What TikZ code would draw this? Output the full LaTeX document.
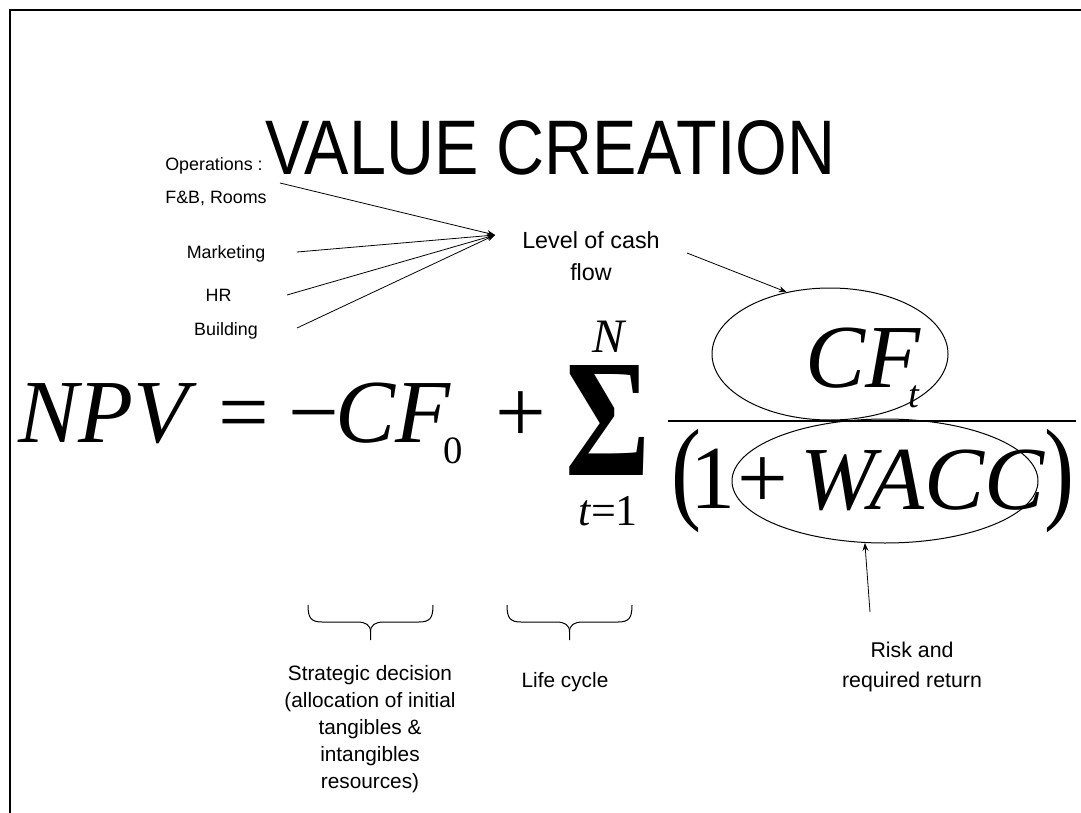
\documentclass[tikz,border=0pt]{standalone}
\usepackage{graphicx}
\usepackage{fontspec}
\setmainfont{Liberation Sans}
\newfontfamily\tms{Liberation Serif}
\usetikzlibrary{arrows.meta,shapes.geometric}
\begin{document}
\begin{tikzpicture}[x=0.75pt,y=-0.75pt,
  lbl/.style={inner sep=0pt, anchor=base, font=\fontsize{13.4}{16}\selectfont},
  note/.style={inner sep=0pt, anchor=north, align=center},
  eq/.style={inner sep=0pt, anchor=base west, font=\tms\fontsize{67.5}{70}\selectfont},
  eqi/.style={inner sep=0pt, anchor=base west, font=\tms\itshape\fontsize{67.5}{70}\selectfont},
  sub/.style={inner sep=0pt, anchor=base west, font=\tms\fontsize{29}{30}\selectfont},
  subi/.style={inner sep=0pt, anchor=base west, font=\tms\itshape\fontsize{29}{30}\selectfont},
  ring/.style={draw, ellipse, inner sep=0pt, line width=0.75pt},
  arr/.style={line width=0.6pt, -{Stealth[length=6pt,width=4.5pt]}},
  brace/.style={line width=0.75pt}
]
\useasboundingbox (0,0) rectangle (1081,813);
% frame
\coordinate (f1) at (10,813);
\coordinate (f2) at (10,10);
\coordinate (f3) at (1081,10);
\draw[line width=1.5pt] (f1) -- (f2) -- (f3);

% title
\node[inner sep=0pt, anchor=base] (title) at (550.5,175)
  {\fontsize{58}{60}\selectfont\scalebox{0.86}[1]{VALUE CREATION}};

% left labels
\node[lbl] (op) at (214,171) {Operations :};
\node[lbl] (fb) at (216,204) {F\&B, Rooms};
\node[lbl] (mk) at (226,258) {Marketing};
\node[lbl] (hr) at (218.5,301) {HR};
\node[lbl] (bd) at (226,335) {Building};

\coordinate (s1) at (280,183);
\coordinate (s2) at (297,252);
\coordinate (s3) at (287,295);
\coordinate (s4) at (297,328);
\coordinate (tip) at (495,235);
\draw[arr] (s1) -- (tip);
\draw[arr] (s2) -- (tip);
\draw[arr] (s3) -- (tip);
\draw[arr] (s4) -- (tip);

% level of cash flow
\node[note, font=\fontsize{17.5}{24}\selectfont] (lvl) at (591,231) {Level of cash\\flow};

% equation
\node[eqi] (npv) at (18,442) {NPV};
\node[eq] (eqs) at (218,442) {=};
\node[eq] (minus) at (288,442) {−};
\node[eqi] (cf0) at (335,442) {CF};
\node[sub] (zero) at (443,463) {0};
\node[eq] (plus1) at (495,442) {+};
\node[inner sep=0pt] (sig) at (608,420) {\tms\bfseries\resizebox{63.75pt}{82.5pt}{Σ}};
\node[inner sep=0pt, anchor=base, font=\tms\itshape\fontsize{36}{36}\selectfont] (upN) at (608,352) {N};
\node[inner sep=0pt, anchor=base, font=\tms\fontsize{33}{33}\selectfont] (low) at (608,525) {\textit{t}=1};
\node[eqi] (cft) at (805,387) {CF};
\node[subi] (tsub) at (908,407) {t};
\coordinate (fl) at (668,421);
\coordinate (fr) at (1076,421);
\draw[line width=1.5pt] (fl) -- (fr);
\node[eq] (lp) at (671,508) {\scalebox{1}[1.27]{(}};
\node[eq] (one) at (690,508) {1};
\node[eq] (plus2) at (737,508) {+};
\node[eqi] (wacc) at (800,509) {WACC};
\node[eq] (rp) at (1044,508) {\scalebox{1}[1.27]{)}};

% ellipses
\node[ring, minimum width=177pt, minimum height=99pt] (ecf) at (830,354) {};
\node[ring, minimum width=229.5pt, minimum height=93pt] (ew) at (885,481) {};

% arrow to CF_t
\coordinate (la) at (687,253);
\draw[arr] (la) -- (ecf.125);

% risk
\node[note, font=\fontsize{16}{22.5}\selectfont] (risk) at (912,642) {Risk and\\required return};
\coordinate (ra) at (870,612);
\draw[arr] (ra) -- (ew.252);

% braces
\draw[brace] (308,605) .. controls (308,618) and (311,622) .. (322,622) -- (357,622) .. controls (366,622) and (370.5,625) .. (370.5,632) -- (370.5,640);
\draw[brace] (433,605) .. controls (433,618) and (430,622) .. (419,622) -- (384,622) .. controls (375,622) and (370.5,625) .. (370.5,632);
\draw[brace] (507,605) .. controls (507,618) and (510,622) .. (521,622) -- (556,622) .. controls (565,622) and (569.5,625) .. (569.5,632) -- (569.5,640);
\draw[brace] (632,605) .. controls (632,618) and (629,622) .. (618,622) -- (583,622) .. controls (574,622) and (569.5,625) .. (569.5,632);

\node[note, font=\fontsize{15.6}{20.25}\selectfont] (strat) at (370,665)
  {Strategic decision\\(allocation of initial\\tangibles \&\\intangibles\\resources)};
\node[note, font=\fontsize{15.6}{20.25}\selectfont] (life) at (565,672) {Life cycle};
\end{tikzpicture}
\end{document}
